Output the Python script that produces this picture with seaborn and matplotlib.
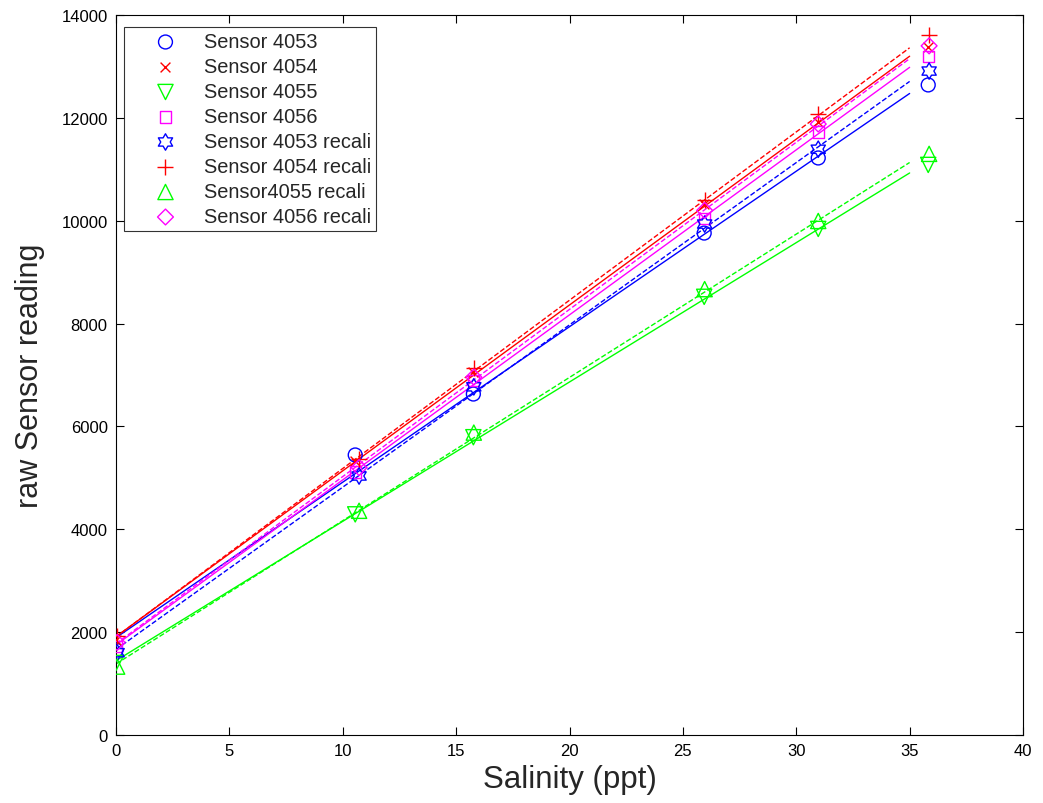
import numpy as np
import pandas as pd
import seaborn as sns
import matplotlib
matplotlib.use("Agg")
import matplotlib.pyplot as plt
from matplotlib.path import Path

# Salinity of the calibration standards (ppt)
salinity_orig = [0.0, 10.55, 15.76, 25.94, 30.97, 35.82]
salinity_recal = [0.05, 10.72, 15.78, 25.96, 30.97, 35.86]

# Raw sensor readings
sensor_4053 = [1650, 5445, 6630, 9760, 11220, 12640]
sensor_4054 = [1850, 5330, 7060, 10320, 11920, 13380]
sensor_4055 = [1400, 4290, 5790, 8520, 9840, 11085]
sensor_4056 = [1720, 5114, 6900, 10050, 11725, 13200]
sensor_4053_recal = [1600, 5036, 6770, 9935, 11390, 12910]
sensor_4054_recal = [1925, 5370, 7130, 10400, 12075, 13610]
sensor_4055_recal = [1330, 4360, 5880, 8670, 9995, 11300]
sensor_4056_recal = [1800, 5200, 6960, 10200, 11880, 13400]

labels = ["Sensor 4053", "Sensor 4054", "Sensor 4055", "Sensor 4056",
          "Sensor 4053 recali", "Sensor 4054 recali", "Sensor4055 recali",
          "Sensor 4056 recali"]

x_ticks = [0, 5, 10, 15, 20, 25, 30, 35, 40]
y_ticks = [0, 2000, 4000, 6000, 8000, 10000, 12000, 14000]


def hexagram():
    # Star of David outline, point up
    verts = []
    r_out, r_in = 1.0, 1.0 / np.sqrt(3)
    for k in range(12):
        ang = np.pi / 2 + k * np.pi / 6
        r = r_out if k % 2 == 0 else r_in
        verts.append((r * np.cos(ang), r * np.sin(ang)))
    verts.append(verts[0])
    codes = [Path.MOVETO] + [Path.LINETO] * 11 + [Path.CLOSEPOLY]
    return Path(verts, codes)


blue, red, green, magenta = "#0000ff", "#ff0000", "#00ff00", "#ff00ff"

series = [
    (salinity_orig, sensor_4053, blue, "o", 100, True, "-"),
    (salinity_orig, sensor_4054, red, "x", 50, False, "-"),
    (salinity_orig, sensor_4055, green, "v", 120, True, "-"),
    (salinity_orig, sensor_4056, magenta, "s", 65, True, "-"),
    (salinity_recal, sensor_4053_recal, blue, hexagram(), 140, True, "--"),
    (salinity_recal, sensor_4054_recal, red, "+", 130, False, "--"),
    (salinity_recal, sensor_4055_recal, green, "^", 120, True, "--"),
    (salinity_recal, sensor_4056_recal, magenta, "D", 65, True, "--"),
]

sns.set_theme(style="white")
plt.rcParams["font.family"] = ["Liberation Sans", "DejaVu Sans"]

fig = plt.figure(figsize=(10.43, 8.04), dpi=100)
ax = fig.add_axes([116 / 1043, 1 - 736 / 804, (1023 - 116) / 1043, (736 - 16) / 804])

# Linear calibration fits, drawn over 0-35 ppt
x_fit = np.linspace(0, 35, 50)
for xs, ys, col, mk, sz, filled, ls in series:
    slope, icpt = np.polyfit(xs, ys, 1)
    fit = pd.DataFrame({"x": x_fit, "y": slope * x_fit + icpt})
    sns.lineplot(data=fit, x="x", y="y", color=col, linestyle=ls,
                 linewidth=1.0, ax=ax, legend=False)

for (xs, ys, col, mk, sz, filled, ls), lab in zip(series, labels):
    df = pd.DataFrame({"x": xs, "y": ys})
    if filled:
        sns.scatterplot(data=df, x="x", y="y", marker=mk, s=sz,
                        facecolor="none", edgecolor=col, linewidth=1.0,
                        ax=ax, label=lab, zorder=3)
    else:
        sns.scatterplot(data=df, x="x", y="y", marker=mk, s=sz,
                        color=col, linewidth=1.0, ax=ax, label=lab, zorder=3)

ax.set_xlim(0, 40)
ax.set_ylim(0, 14000)
ax.set_xticks(x_ticks)
ax.set_yticks(y_ticks)
ax.set_xticklabels([str(t) for t in x_ticks], fontsize=12)
ax.set_yticklabels([str(t) for t in y_ticks], fontsize=12)
ax.tick_params(direction="in", length=6, width=0.8, top=True, right=True,
               bottom=True, left=True, colors="black", pad=6)
for sp in ax.spines.values():
    sp.set_visible(True)
    sp.set_color("black")
    sp.set_linewidth(0.8)

ax.set_xlabel("Salinity (ppt)", fontsize=22.5, labelpad=4)
ax.set_ylabel("raw Sensor reading", fontsize=22, labelpad=12)

leg = ax.legend(loc="upper left", bbox_to_anchor=(0.0088, 0.983), fontsize=14.4,
                frameon=True, fancybox=False, edgecolor="black",
                handletextpad=0.1, borderpad=0.25, labelspacing=0.3,
                handlelength=3.65, borderaxespad=0)
leg.get_frame().set_linewidth(0.8)

fig.savefig("out.png", dpi=100, facecolor="white")
